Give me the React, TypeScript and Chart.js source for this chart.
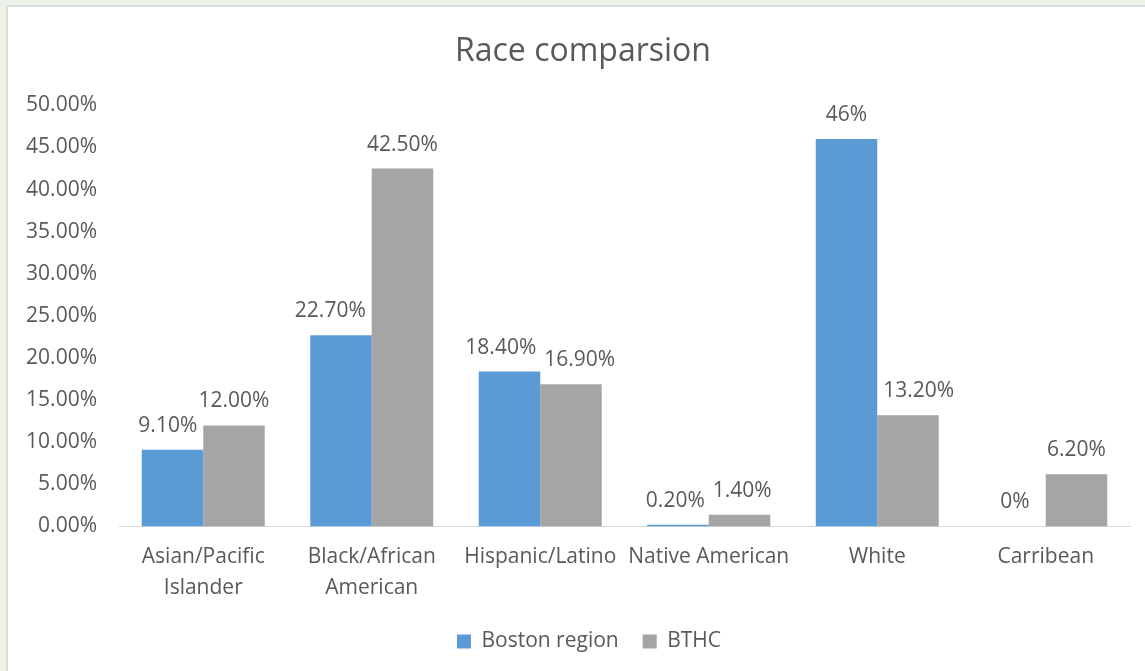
import React, { useEffect, useRef } from "react";
import { Chart, registerables } from "chart.js";

Chart.register(...registerables);

const categories: (string | string[])[] = [
  ["Asian/Pacific", "Islander"],
  ["Black/African", "American"],
  "Hispanic/Latino",
  "Native American",
  "White",
  "Carribean",
];
const bostonValues = [9.1, 22.7, 18.4, 0.2, 46, 0];
const bthcValues = [12, 42.5, 16.9, 1.4, 13.2, 6.2];
const bostonLabels = ["9.10%", "22.70%", "18.40%", "0.20%", "46%", "0%"];
const bthcLabels = ["12.00%", "42.50%", "16.90%", "1.40%", "13.20%", "6.20%"];
const seriesNames = ["Boston region", "BTHC"];
const titleText = "Race comparsion";

const FONT = "'Open Sans', 'DejaVu Sans', sans-serif";
const TEXT = "#595959";

// Data labels above bars, nudged sideways (as Excel does) when they would collide
const dataLabelPlugin = {
  id: "dataLabels",
  afterDatasetsDraw(chart: any) {
    const ctx = chart.ctx;
    ctx.save();
    ctx.font = `21px ${FONT}`;
    ctx.fillStyle = TEXT;
    ctx.textAlign = "center";
    ctx.textBaseline = "middle";
    const metaA = chart.getDatasetMeta(0);
    const metaB = chart.getDatasetMeta(1);
    const halfH = 10;
    const gapBar = 6;
    const gapLbl = 8;
    metaA.data.forEach((barA: any, j: number) => {
      const barB = metaB.data[j];
      const ta = bostonLabels[j];
      const tb = bthcLabels[j];
      const wa = ctx.measureText(ta).width;
      const wb = ctx.measureText(tb).width;
      let xa = barA.x;
      let xb = barB.x;
      const ya = barA.y - 24;
      const yb = barB.y - 24;
      const aLeftB = barB.x - barB.width / 2;
      const bRightA = barA.x + barA.width / 2;
      // blue label hitting grey bar
      if (xa + wa / 2 > aLeftB - gapBar && ya + halfH > barB.y) {
        xa = aLeftB - gapBar - wa / 2;
      }
      // grey label hitting blue bar
      if (xb - wb / 2 < bRightA + gapBar && yb + halfH > barA.y) {
        xb = bRightA + gapBar + wb / 2;
      }
      // labels hitting each other
      if (Math.abs(ya - yb) < 2 * halfH) {
        const overlap = xa + wa / 2 + gapLbl - (xb - wb / 2);
        if (overlap > 0) {
          xa -= overlap / 2;
          xb += overlap / 2;
        }
      }
      ctx.fillText(ta, xa, ya);
      ctx.fillText(tb, xb, yb);
    });
    ctx.restore();
  },
};

// Centre title and legend on the whole chart box rather than on the padded area
const recenterPlugin = {
  id: "recenter",
  afterLayout(chart: any) {
    if (chart.legend) {
      chart.legend.left += 20;
      chart.legend.right += 20;
    }
    if (chart.titleBlock) {
      chart.titleBlock.left += 14;
      chart.titleBlock.right += 14;
    }
  },
};

export default function App() {
  const ref = useRef<HTMLCanvasElement | null>(null);
  useEffect(() => {
    if (!ref.current) return;
    const chart = new Chart(ref.current, {
      type: "bar",
      data: {
        labels: categories as any,
        datasets: [
          {
            label: seriesNames[0],
            data: bostonValues,
            backgroundColor: "#5B9BD5",
            categoryPercentage: 0.73,
            barPercentage: 1,
          },
          {
            label: seriesNames[1],
            data: bthcValues,
            backgroundColor: "#A5A5A5",
            categoryPercentage: 0.73,
            barPercentage: 1,
          },
        ],
      },
      options: {
        animation: false,
        responsive: false,
        maintainAspectRatio: false,
        layout: { padding: { top: 0, left: 0, right: 30, bottom: 11 } },
        plugins: {
          title: {
            display: true,
            text: titleText,
            color: TEXT,
            font: { family: FONT, size: 32, weight: "normal" as any },
            padding: { top: 24, bottom: 34 },
          },
          legend: {
            position: "bottom",
            labels: {
              color: TEXT,
              font: { family: FONT, size: 21 },
              boxWidth: 14,
              boxHeight: 14,
              padding: 24,
            },
          },
          tooltip: { enabled: false },
        },
        scales: {
          x: {
            grid: { display: false, drawTicks: false },
            border: { display: true, color: "#D9D9D9", width: 1 },
            ticks: {
              color: TEXT,
              font: { family: FONT, size: 21, lineHeight: 1.43 },
              padding: 16,
              maxRotation: 0,
              minRotation: 0,
              autoSkip: false,
            },
            afterFit(scale: any) {
              scale.height = 80.5;
            },
          },
          y: {
            min: 0,
            max: 50,
            grid: { display: false, drawTicks: false },
            border: { display: false },
            ticks: {
              stepSize: 5,
              color: TEXT,
              font: { family: FONT, size: 21 },
              padding: 22,
              callback: (v: any) => Number(v).toFixed(2) + "%",
            },
            afterFit(scale: any) {
              scale.width = 111;
            },
          },
        },
      },
      plugins: [dataLabelPlugin, recenterPlugin],
    });
    return () => chart.destroy();
  }, []);

  return (
    <div
      style={{
        position: "fixed",
        left: 0,
        top: 0,
        width: 1145,
        height: 671,
        overflow: "hidden",
        background: "#EDF2E8",
      }}
    >
      <div
        style={{
          position: "absolute",
          left: 6,
          top: 5,
          width: 1154,
          height: 680,
          background: "#DCDCDC",
        }}
      />
      <div
        style={{
          position: "absolute",
          left: 8,
          top: 7,
          width: 1152,
          height: 664,
          background: "#FFFFFF",
          overflow: "hidden",
        }}
      >
        <canvas
          ref={ref}
          width={1152}
          height={664}
          style={{ display: "block", position: "relative", top: 2 }}
        />
      </div>
    </div>
  );
}
